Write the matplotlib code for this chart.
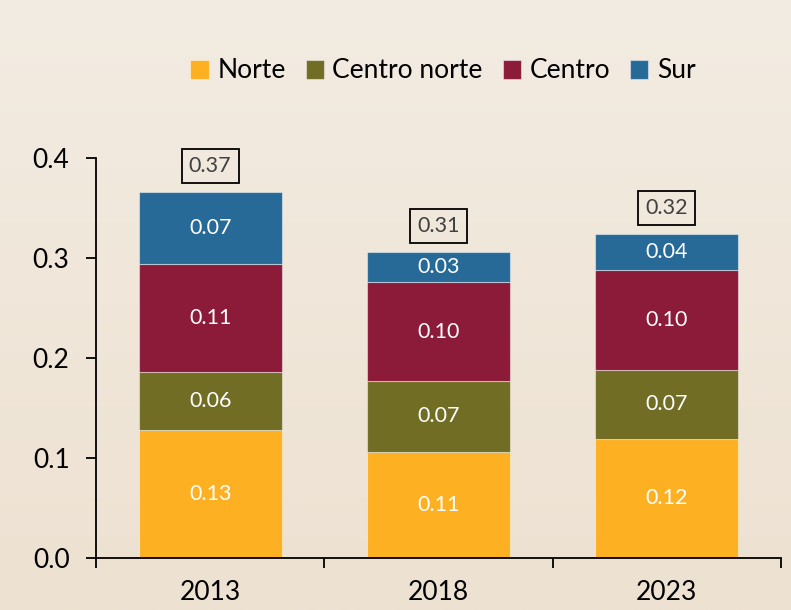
import numpy as np
import matplotlib
matplotlib.use("Agg")
import matplotlib.pyplot as plt
from matplotlib.ticker import FixedLocator

plt.rcParams['font.family'] = ['Lato', 'DejaVu Sans']

# data
years = ["2013", "2018", "2023"]
norte = [0.128, 0.106, 0.119]
centro_norte = [0.058, 0.071, 0.069]
centro = [0.108, 0.099, 0.100]
sur = [0.072, 0.030, 0.036]

series = [("Norte", norte, "#FDB022"),
          ("Centro norte", centro_norte, "#716D24"),
          ("Centro", centro, "#8C1B3A"),
          ("Sur", sur, "#276A98")]

fig = plt.figure(figsize=(7.91, 6.10), dpi=100)

# beige gradient background
bg = fig.add_axes([0, 0, 1, 1], zorder=-10)
grad = np.linspace(0, 1, 256).reshape(-1, 1)
top_c = np.array([243, 236, 226]) / 255
bot_c = np.array([237, 225, 209]) / 255
img = top_c * (1 - grad[..., None]) + bot_c * grad[..., None]
img = np.repeat(img, 2, axis=1)
bg.imshow(img, aspect="auto", extent=[0, 1, 0, 1])
bg.axis("off")

ax = fig.add_axes([96 / 791, 1 - 558 / 610, (781 - 96) / 791, (558 - 158) / 610])
ax.patch.set_alpha(0)

x = np.arange(len(years))
width = 0.626
bottom = np.zeros(len(years))
for name, vals, col in series:
    vals = np.array(vals)
    ax.bar(x, vals, width, bottom=bottom, color=col, label=name,
           edgecolor=(1, 1, 1, 0.45), linewidth=0.8)
    for xi, b, v in zip(x, bottom, vals):
        ax.text(xi, b + v / 2, f"{v:.2f}", ha="center", va="center",
                color="white", fontsize=15.5)
    bottom += vals

for xi, tot in zip(x, bottom):
    ax.annotate(f"{tot:.2f}", (xi, tot), xytext=(0, 19), textcoords="offset points",
                ha="center", va="center", fontsize=15.5, color="#404040",
                bbox=dict(boxstyle="square,pad=0.33", fc="none", ec="black", lw=1.3),
                annotation_clip=False)

ax.set_xlim(-0.5, 2.5)
ax.set_ylim(0, 0.4)
ax.set_yticks([0, 0.1, 0.2, 0.3, 0.4])
ax.set_yticklabels(["0.0", "0.1", "0.2", "0.3", "0.4"])
ax.set_xticks(x)
ax.set_xticklabels(years)
ax.xaxis.set_minor_locator(FixedLocator([-0.5, 0.5, 1.5, 2.5]))
ax.tick_params(axis="x", which="major", length=0, pad=16, labelsize=19)
ax.tick_params(axis="x", which="minor", length=7, width=1.3, direction="out")
ax.tick_params(axis="y", length=7, width=1.3, pad=12, labelsize=19)

for s in ["top", "right"]:
    ax.spines[s].set_visible(False)
for s in ["left", "bottom"]:
    ax.spines[s].set_linewidth(1.3)

fig.legend(loc="center", bbox_to_anchor=(443 / 791, 1 - 71 / 610), ncol=4,
           frameon=False, fontsize=19, handlelength=0.7, handleheight=0.7,
           handletextpad=0.32, columnspacing=0.75, borderaxespad=0)

fig.savefig("out.png", dpi=100)
